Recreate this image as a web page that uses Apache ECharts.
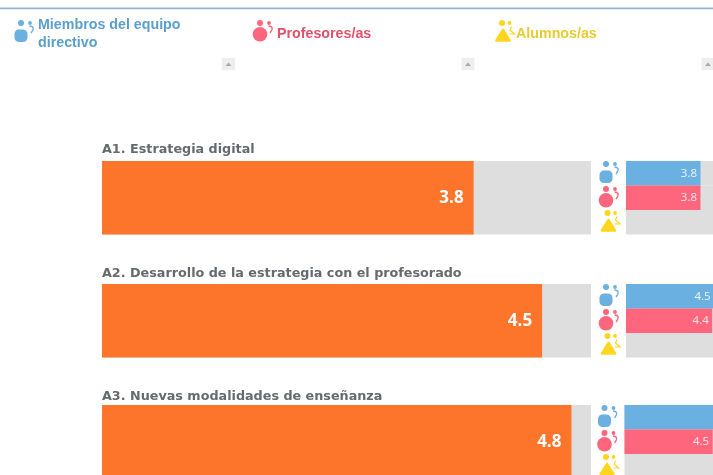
<!DOCTYPE html>
<html><head><meta charset="utf-8">
<style>html,body{margin:0;padding:0;background:#fff}#c{width:713px;height:475px}</style>
<script src="https://cdn.jsdelivr.net/npm/echarts@6/dist/echarts.min.js"></script>
</head><body><div id="c"></div>
<script>
const rowTitles = ['A1. Estrategia digital','A2. Desarrollo de la estrategia con el profesorado','A3. Nuevas modalidades de enseñanza'];
const overall = [3.8, 4.5, 4.8];
const directivos = [3.8, 4.5, 5.0];
const profesores = [3.8, 4.4, 4.5];
const alumnos = [null, null, null];
const groupNames = ['Miembros del equipo directivo','Profesores/as','Alumnos/as'];
const axisMax = 5;

const rowTops = [161, 284, 405];
const titleTops = [143.5, 267.5, 390];
const smallLeft = [626, 626, 624.5];
const iconX = [606, 606, 604.5];
const colors = {orange:'#fc752b', track:'#dedede', blue:'#6ab0e0', pink:'#fd667c', yellow:'#ffd51e'};

function icon(kind, x, y, color, s) {
  const body = kind === 0
    ? {type:'rect', shape:{x:-6.5, y:6.5, width:13, height:12.5, r:4.5}, style:{fill:color}}
    : kind === 1
    ? {type:'circle', shape:{cx:0, cy:11.3, r:7.3}, style:{fill:color}}
    : {type:'polygon', shape:{points:[[1,7],[-5.5,17.5],[7.5,17.5]]}, style:{fill:color, stroke:color, lineWidth:2.5, lineJoin:'round'}};
  const hook = kind === 2
    ? {type:'polyline', shape:{points:[[9.5,3.5],[8,7],[12.5,11],[7.5,11]]}, style:{fill:'none', stroke:color, lineWidth:1.2}}
    : {type:'bezierCurve', shape:{x1:8.5, y1:3, cpx1:15, cpy1:3.5, x2:10, y2:10}, style:{fill:'none', stroke:color, lineWidth:1.3}};
  return {type:'group', x, y, scaleX:s, scaleY:s, silent:true, children:[
    {type:'circle', shape:{cx:0, cy:0, r:3}, style:{fill:color}},
    {type:'circle', shape:{cx:kind===2?7.5:9, cy:0, r:1.9}, style:{fill:color}},
    hook, body
  ]};
}
function scrollBtn(x, w) {
  return {type:'group', x, y:58, silent:true, children:[
    {type:'rect', shape:{x:0, y:0, width:w, height:12}, style:{fill:'#eeeeee'}},
    {type:'polygon', shape:{points:[[3.5,8],[9.5,8],[6.5,4.5]]}, style:{fill:'#a8a8a8'}}
  ]};
}

const grid=[], xAxis=[], yAxis=[], series=[], title=[], graphic=[];
graphic.push({type:'rect', shape:{x:0, y:7.5, width:713, height:1.7}, style:{fill:'#8fb5d6'}, silent:true});
graphic.push(scrollBtn(222,13), scrollBtn(461.5,13), scrollBtn(701.5,12));
const legendX = [21, 260, 502], legendTextX = [38, 277, 516];
const legendColors = ['#5a9fcb','#e2506a','#e8cb2f'];
const legendIcon = [colors.blue, colors.pink, colors.yellow];
groupNames.forEach((n,i)=>{
  graphic.push(icon(i, legendX[i], 23, legendIcon[i], 1));
  graphic.push({type:'text', x:legendTextX[i], y:i===0?16:25, silent:true, style:{
    text:i===0?'Miembros del equipo\ndirectivo':n, fill:legendColors[i],
    font:'bold 14.25px "Liberation Sans", Arial, sans-serif', lineHeight:18}});
});

rowTitles.forEach((t,i)=>{
  const top = rowTops[i];
  title.push({text:t, left:102, top:titleTops[i], padding:0, textStyle:{fontFamily:'"DejaVu Sans"', fontWeight:'bold', fontSize:12.75, color:'#666a6e'}});
  // main bar
  grid.push({left:102, top, width:489, height:73.5, outerBoundsMode:'none'});
  xAxis.push({gridIndex:2*i, type:'value', min:0, max:axisMax, show:false});
  yAxis.push({gridIndex:2*i, type:'category', data:[t], show:false});
  series.push({type:'bar', xAxisIndex:2*i, yAxisIndex:2*i, data:[axisMax], barWidth:'100%', silent:true,
    itemStyle:{color:colors.track}, z:1});
  series.push({type:'bar', xAxisIndex:2*i, yAxisIndex:2*i, data:[overall[i]], barWidth:'100%', barGap:'-100%',
    itemStyle:{color:colors.orange}, z:2,
    label:{show:true, position:'insideRight', distance:10, color:'#fff', fontFamily:'"Open Sans"', fontWeight:'bold', fontSize:17, formatter:p=>p.value.toFixed(1)}});
  // breakdown
  grid.push({left:smallLeft[i], top, width:98, height:73.5, outerBoundsMode:'none'});
  xAxis.push({gridIndex:2*i+1, type:'value', min:0, max:axisMax, show:false});
  yAxis.push({gridIndex:2*i+1, type:'category', inverse:true, data:groupNames, show:false});
  const vals = [directivos[i], profesores[i], alumnos[i]];
  series.push({type:'bar', xAxisIndex:2*i+1, yAxisIndex:2*i+1, data:vals.map(()=>axisMax), barWidth:'100%', silent:true,
    itemStyle:{color:colors.track}, z:1});
  series.push({type:'bar', xAxisIndex:2*i+1, yAxisIndex:2*i+1, barWidth:'100%', barGap:'-100%', z:2,
    data:vals.map((v,k)=>({value:v, itemStyle:{color:[colors.blue,colors.pink,colors.yellow][k]},
      label:{show:v!==null && v<=4.5}})),
    label:{position:'insideRight', distance:3.5, color:'rgba(255,255,255,0.88)', fontFamily:'"Open Sans"', fontSize:11.5, formatter:p=>p.value.toFixed(1)}});
  const off = [3, 28, 52];
  [colors.blue,colors.pink,colors.yellow].forEach((c,k)=>{
    graphic.push(icon(k, iconX[i]+(k===2?1.5:0), top+off[k], c, 1));
  });
});

const chart = echarts.init(document.getElementById('c'), null, {renderer:'canvas'});
chart.setOption({animation:false, title, grid, xAxis, yAxis, series, graphic});
</script></body></html>
